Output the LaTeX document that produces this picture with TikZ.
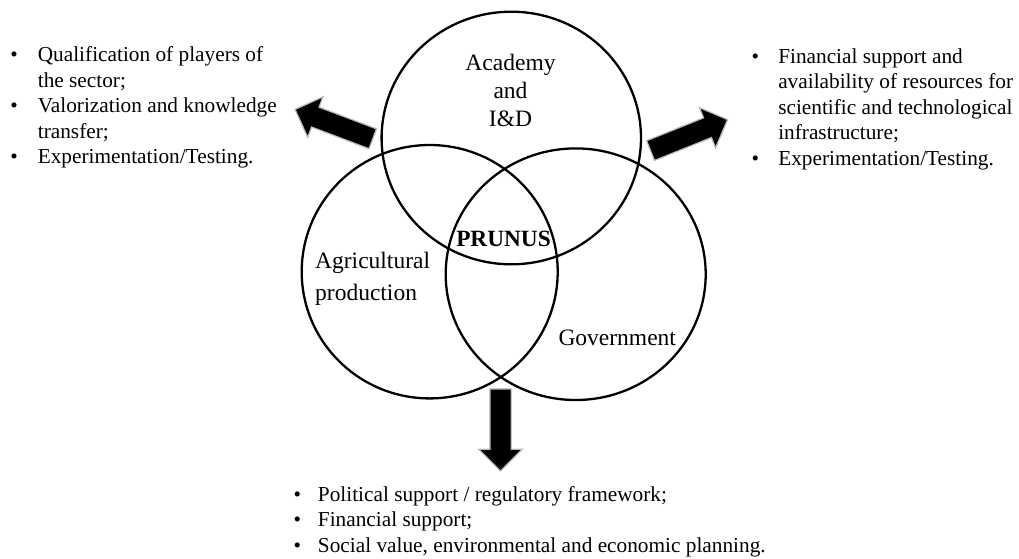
\documentclass[tikz,border=0pt]{standalone}
\usepackage{fontspec}
\setmainfont{Liberation Serif}
\usetikzlibrary{shapes.geometric,shapes.arrows}

\begin{document}
\begin{tikzpicture}[x=1pt,y=-1pt,
  ring/.style={draw=black, line width=2.3pt, ellipse, inner sep=0pt},
  sector/.style={inner sep=0pt, font=\fontsize{23.5}{28}\selectfont},
  bigarrow/.style={single arrow, fill=black, draw=gray!55, line width=1.2pt,
    inner xsep=0pt, inner ysep=10pt, single arrow head extend=11pt,
    single arrow tip angle=90, minimum height=83pt, anchor=tail},
  bullets/.style={inner sep=0pt, anchor=base west,
    font=\fontsize{21.3}{25.6}\selectfont}
]
  % canvas
  \fill[white] (0,0) rectangle (1019,558);
  \useasboundingbox (0,0) rectangle (1019,558);

  % the three overlapping sectors
  \node[ring, minimum width=259.4pt, minimum height=252.6pt] (academy) at (511.3,138) {};
  \node[ring, minimum width=256pt, minimum height=253.4pt] (agri) at (429.7,271.7) {};
  \node[ring, minimum width=260pt, minimum height=251.6pt] (gov) at (575.7,274.2) {};

  % sector labels
  \node[sector, anchor=base] (acadtxt) at (510.5,70)
    {\begin{tabular}[t]{@{}c@{}}Academy\\and\\I\&D\end{tabular}};
  \node[sector, anchor=base west, font=\fontsize{23.5}{31.7}\selectfont] (agritxt) at (315,268.3)
    {\begin{tabular}[t]{@{}l@{}}Agricultural\\production\end{tabular}};
  \node[sector, anchor=base west] (govtxt) at (558.3,345) {Government};
  \node[sector, anchor=base, font=\fontsize{23.3}{28}\selectfont\bfseries] (prunus) at (503.5,246) {PRUNUS};

  % outputs of the cluster
  \node[bigarrow, rotate=159.3] (toleft) at (373.3,139) {};
  \node[bigarrow, rotate=21.9] (toright) at (650,150.8) {};
  \node[bigarrow, rotate=-90, minimum height=82pt] (todown) at (500.5,388.3) {};

  % contributions
  \node[bullets] (leftlist) at (10.2,61.5)
    {\begin{tabular}[t]{@{}c@{\hspace{20pt}}l@{}}
      \textbullet & Qualification of players of\\
                  & the sector;\\
      \textbullet & Valorization and knowledge\\
                  & transfer;\\
      \textbullet & Experimentation/Testing.
     \end{tabular}};
  \node[bullets] (rightlist) at (751.3,63)
    {\begin{tabular}[t]{@{}c@{\hspace{19.3pt}}l@{}}
      \textbullet & Financial support and\\
                  & availability of resources for\\
                  & scientific and technological\\
                  & infrastructure;\\
      \textbullet & Experimentation/Testing.
     \end{tabular}};
  \node[bullets] (bottomlist) at (293.3,501)
    {\begin{tabular}[t]{@{}c@{\hspace{17pt}}l@{}}
      \textbullet & Political support / regulatory framework;\\
      \textbullet & Financial support;\\
      \textbullet & Social value, environmental and economic planning.
     \end{tabular}};
\end{tikzpicture}
\end{document}
